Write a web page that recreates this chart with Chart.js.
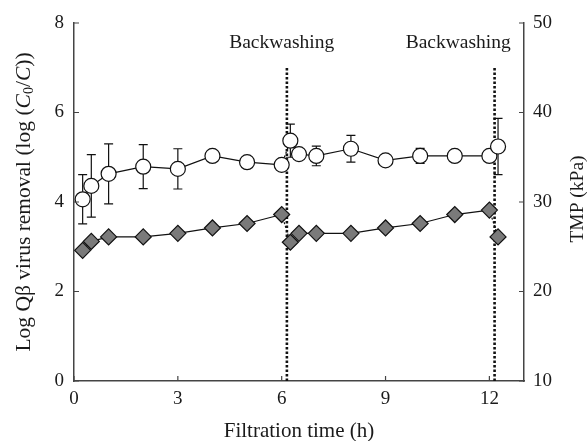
<!DOCTYPE html>
<html lang="en">
<head>
  <meta charset="UTF-8" />
  <title>Qβ virus removal and TMP</title>
  <script src="https://cdn.jsdelivr.net/npm/chart.js"></script>
  <style>
    html, body { margin: 0; padding: 0; background: #fff; }
    #wrap { width: 587px; height: 441px; position: relative; }
  </style>
</head>
<body>
  <div id="wrap"><canvas id="grafica"></canvas></div>

  <script>
  // filtration time (h)
  const timeH = [0.25, 0.5, 1, 2, 3, 4, 5, 6, 6.25, 6.5, 7, 8, 9, 10, 11, 12, 12.25];
  // log Qβ removal (left axis) and its error bars
  const logRemoval = [4.06, 4.36, 4.63, 4.79, 4.74, 5.03, 4.89, 4.83, 5.37, 5.07, 5.03, 5.19, 4.93, 5.03, 5.03, 5.03, 5.24];
  const removalErr = [0.55, 0.70, 0.67, 0.49, 0.45, 0, 0, 0, 0.37, 0, 0.22, 0.30, 0.12, 0.17, 0, 0, 0.63];
  // TMP in kPa (right axis)
  const tmpKPa = [24.6, 25.6, 26.1, 26.1, 26.5, 27.1, 27.6, 28.6, 25.5, 26.5, 26.5, 26.5, 27.1, 27.6, 28.6, 29.1, 26.1];

  const backwashH = [6.15, 12.15];
  const backwashTop = 7;
  const backwashLabel = 'Backwashing';
  const backwashLabelX = [6.0, 11.1];
  const backwashLabelY = 7.55;

  const xTicks = [0, 3, 6, 9, 12];
  const yTicks = [0, 2, 4, 6, 8];
  const y1Ticks = [10, 20, 30, 40, 50];

  const SERIF = "'Liberation Serif', 'Times New Roman', serif";
  const INK = '#1a1a1a';
  const AXIS = '#444';

  // segments crossing a backwash time are dotted
  function crossesBackwash(a, b) {
    return backwashH.some(t => a < t + 0.2 && b > t - 0.2 && b - a < 0.5);
  }
  const segDash = { borderDash: c => crossesBackwash(c.p0.parsed.x, c.p1.parsed.x) ? [2, 2] : undefined };

  const lineasBackwash = backwashH.map(t => ({
    type: 'line',
    data: [{ x: t, y: 0 }, { x: t, y: backwashTop }],
    yAxisID: 'y',
    borderColor: '#111',
    borderWidth: 2.6,
    borderDash: [2.5, 2],
    pointRadius: 0,
    order: 5
  }));

  const pickTicks = arr => scale => { scale.ticks = arr.map(v => ({ value: v })); };

  const plugin = {
    id: 'extras',
    beforeDatasetsDraw(chart) {
      const ctx = chart.ctx, x = chart.scales.x, y = chart.scales.y;
      ctx.save();
      ctx.strokeStyle = '#111';
      ctx.lineWidth = 1.2;
      timeH.forEach((t, i) => {
        const e = removalErr[i];
        if (!e) return;
        const px = x.getPixelForValue(t);
        const top = y.getPixelForValue(logRemoval[i] + e);
        const bot = y.getPixelForValue(logRemoval[i] - e);
        ctx.beginPath();
        ctx.moveTo(px, top); ctx.lineTo(px, bot);
        ctx.moveTo(px - 4.5, top); ctx.lineTo(px + 4.5, top);
        ctx.moveTo(px - 4.5, bot); ctx.lineTo(px + 4.5, bot);
        ctx.stroke();
      });
      ctx.restore();
    },
    afterDraw(chart) {
      const ctx = chart.ctx, a = chart.chartArea;
      const x = chart.scales.x, y = chart.scales.y, y1 = chart.scales.y1;
      ctx.save();
      // inward ticks
      ctx.strokeStyle = AXIS;
      ctx.lineWidth = 1.2;
      ctx.beginPath();
      xTicks.forEach(v => { const p = x.getPixelForValue(v); ctx.moveTo(p, a.bottom); ctx.lineTo(p, a.bottom - 5); });
      yTicks.forEach(v => { const p = y.getPixelForValue(v); ctx.moveTo(a.left, p); ctx.lineTo(a.left + 5, p); });
      y1Ticks.forEach(v => { const p = y1.getPixelForValue(v); ctx.moveTo(a.right, p); ctx.lineTo(a.right - 5, p); });
      ctx.stroke();

      ctx.fillStyle = INK;
      // backwashing labels
      ctx.font = '19.5px ' + SERIF;
      ctx.textAlign = 'center';
      ctx.textBaseline = 'middle';
      backwashLabelX.forEach(v => {
        ctx.fillText(backwashLabel, x.getPixelForValue(v), y.getPixelForValue(backwashLabelY));
      });

      // x title
      ctx.font = '21px ' + SERIF;
      ctx.fillText('Filtration time (h)', (a.left + a.right) / 2, 431);

      // right title
      ctx.save();
      ctx.font = '19.5px ' + SERIF;
      ctx.translate(578, 199);
      ctx.rotate(-Math.PI / 2);
      ctx.fillText('TMP (kPa)', 0, 0);
      ctx.restore();

      // left title with italic C and subscript 0
      const parts = [
        { t: 'Log Q\u03B2 virus removal (log (', f: '21.5px ' + SERIF, dy: 0 },
        { t: 'C', f: 'italic 21.5px ' + SERIF, dy: 0 },
        { t: '0', f: '14px ' + SERIF, dy: 5 },
        { t: '/', f: '21.5px ' + SERIF, dy: 0 },
        { t: 'C', f: 'italic 21.5px ' + SERIF, dy: 0 },
        { t: '))', f: '21.5px ' + SERIF, dy: 0 }
      ];
      let total = 0;
      parts.forEach(p => { ctx.font = p.f; p.w = ctx.measureText(p.t).width; total += p.w; });
      ctx.save();
      ctx.translate(24, 202);
      ctx.rotate(-Math.PI / 2);
      ctx.textAlign = 'left';
      let cx = -total / 2;
      parts.forEach(p => { ctx.font = p.f; ctx.fillText(p.t, cx, p.dy); cx += p.w; });
      ctx.restore();

      ctx.restore();
    }
  };

  new Chart(document.getElementById('grafica'), {
    type: 'line',
    data: {
      datasets: [
        {
          label: 'Log removal',
          data: timeH.map((t, i) => ({ x: t, y: logRemoval[i] })),
          yAxisID: 'y',
          borderColor: '#111',
          borderWidth: 1.2,
          pointStyle: 'circle',
          pointRadius: 7.5,
          pointBackgroundColor: '#fff',
          pointBorderColor: '#111',
          pointBorderWidth: 1.2,
          segment: segDash,
          order: 0
        },
        {
          label: 'TMP',
          data: timeH.map((t, i) => ({ x: t, y: tmpKPa[i] })),
          yAxisID: 'y1',
          borderColor: '#111',
          borderWidth: 1.2,
          pointStyle: 'rectRot',
          pointRadius: 8,
          pointBackgroundColor: '#7a7a7a',
          pointBorderColor: '#111',
          pointBorderWidth: 1.2,
          segment: segDash,
          order: 1
        },
        ...lineasBackwash
      ]
    },
    options: {
      responsive: true,
      maintainAspectRatio: false,
      animation: false,
      layout: { padding: { top: 23, left: 0, right: 0, bottom: 0 } },
      plugins: { legend: { display: false }, tooltip: { enabled: false } },
      scales: {
        x: {
          type: 'linear', min: 0, max: 13,
          afterBuildTicks: pickTicks(xTicks),
          afterFit: s => { s.height = 60; },
          grid: { display: false, drawTicks: false },
          border: { display: true, color: AXIS, width: 1.5 },
          ticks: { color: INK, padding: 7, maxRotation: 0, font: { family: SERIF, size: 19 } }
        },
        y: {
          type: 'linear', position: 'left', min: 0, max: 8,
          afterBuildTicks: pickTicks(yTicks),
          afterFit: s => { s.width = 74; },
          grid: { display: false, drawTicks: false },
          border: { display: true, color: AXIS, width: 1.5 },
          ticks: { color: INK, padding: 10, font: { family: SERIF, size: 19 } }
        },
        y1: {
          type: 'linear', position: 'right', min: 10, max: 50,
          afterBuildTicks: pickTicks(y1Ticks),
          afterFit: s => { s.width = 63; },
          grid: { display: false, drawTicks: false },
          border: { display: true, color: AXIS, width: 1.5 },
          ticks: { color: INK, padding: 9, font: { family: SERIF, size: 19 } }
        }
      }
    },
    plugins: [plugin]
  });
  </script>
</body>
</html>
